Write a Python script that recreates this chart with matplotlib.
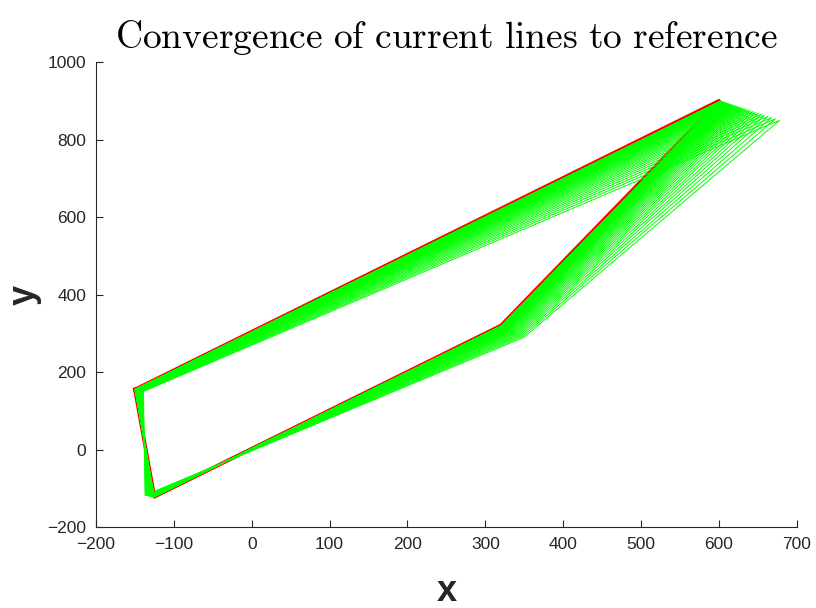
import numpy as np
import matplotlib
matplotlib.use("Agg")
import matplotlib.pyplot as plt

# reference quadrilateral (left, top, middle, bottom corners)
ref_x = [-150, 600, 320, -125]
ref_y = [155, 900, 320, -122]

# starting lines before the first update
start_x = [-139, 678, 350, -137]
start_y = [150, 850, 290, -118]

remaining = [1.00, 0.93, 0.865, 0.804, 0.748, 0.696, 0.647, 0.602, 0.56, 0.52,
             0.484, 0.45, 0.419, 0.389, 0.362, 0.337, 0.313, 0.291, 0.271, 0.252,
             0.234, 0.218, 0.203, 0.188, 0.175, 0.163, 0.152, 0.141, 0.131, 0.122,
             0.113, 0.105, 0.098, 0.091, 0.085, 0.079, 0.073, 0.068, 0.063, 0.059,
             0.055, 0.051, 0.047, 0.044, 0.041, 0.038, 0.035, 0.033, 0.031, 0.029,
             0.027, 0.025, 0.023, 0.021]

plt.rcParams['font.family'] = ['Liberation Sans', 'DejaVu Sans']
plt.rcParams['mathtext.fontset'] = 'cm'

fig = plt.figure(figsize=(8.16, 6.08), dpi=100)
ax = fig.add_axes([0.1176, 0.1332, 0.859, 0.7648])

rx = np.array(ref_x + ref_x[:1], dtype=float)
ry = np.array(ref_y + ref_y[:1], dtype=float)
sx = np.array(start_x + start_x[:1], dtype=float)
sy = np.array(start_y + start_y[:1], dtype=float)

ax.plot(rx, ry, color='#ff0000', linewidth=2.6, zorder=1)
for f in remaining:
    ax.plot(rx + f * (sx - rx), ry + f * (sy - ry), color='#00ff00', linewidth=0.7, zorder=2)

ax.set_xlim(-200, 700)
ax.set_ylim(-200, 1000)
ax.set_xticks(np.arange(-200, 701, 100))
ax.set_yticks(np.arange(-200, 1001, 200))

gray = '#262626'
for side in ['top', 'right']:
    ax.spines[side].set_visible(False)
for side in ['left', 'bottom']:
    ax.spines[side].set_color(gray)
    ax.spines[side].set_linewidth(0.8)
ax.tick_params(direction='in', length=5, width=0.8, colors=gray, labelsize=12.5, pad=7)

ax.set_title(r'$\mathrm{Convergence\ of\ current\ lines\ to\ reference}$', fontsize=27, pad=10)
ax.set_xlabel('x', fontsize=26, fontweight='bold', color=gray, labelpad=16)
ax.set_ylabel('y', fontsize=26, fontweight='bold', color=gray, labelpad=4)

fig.savefig('out.png', dpi=100)
